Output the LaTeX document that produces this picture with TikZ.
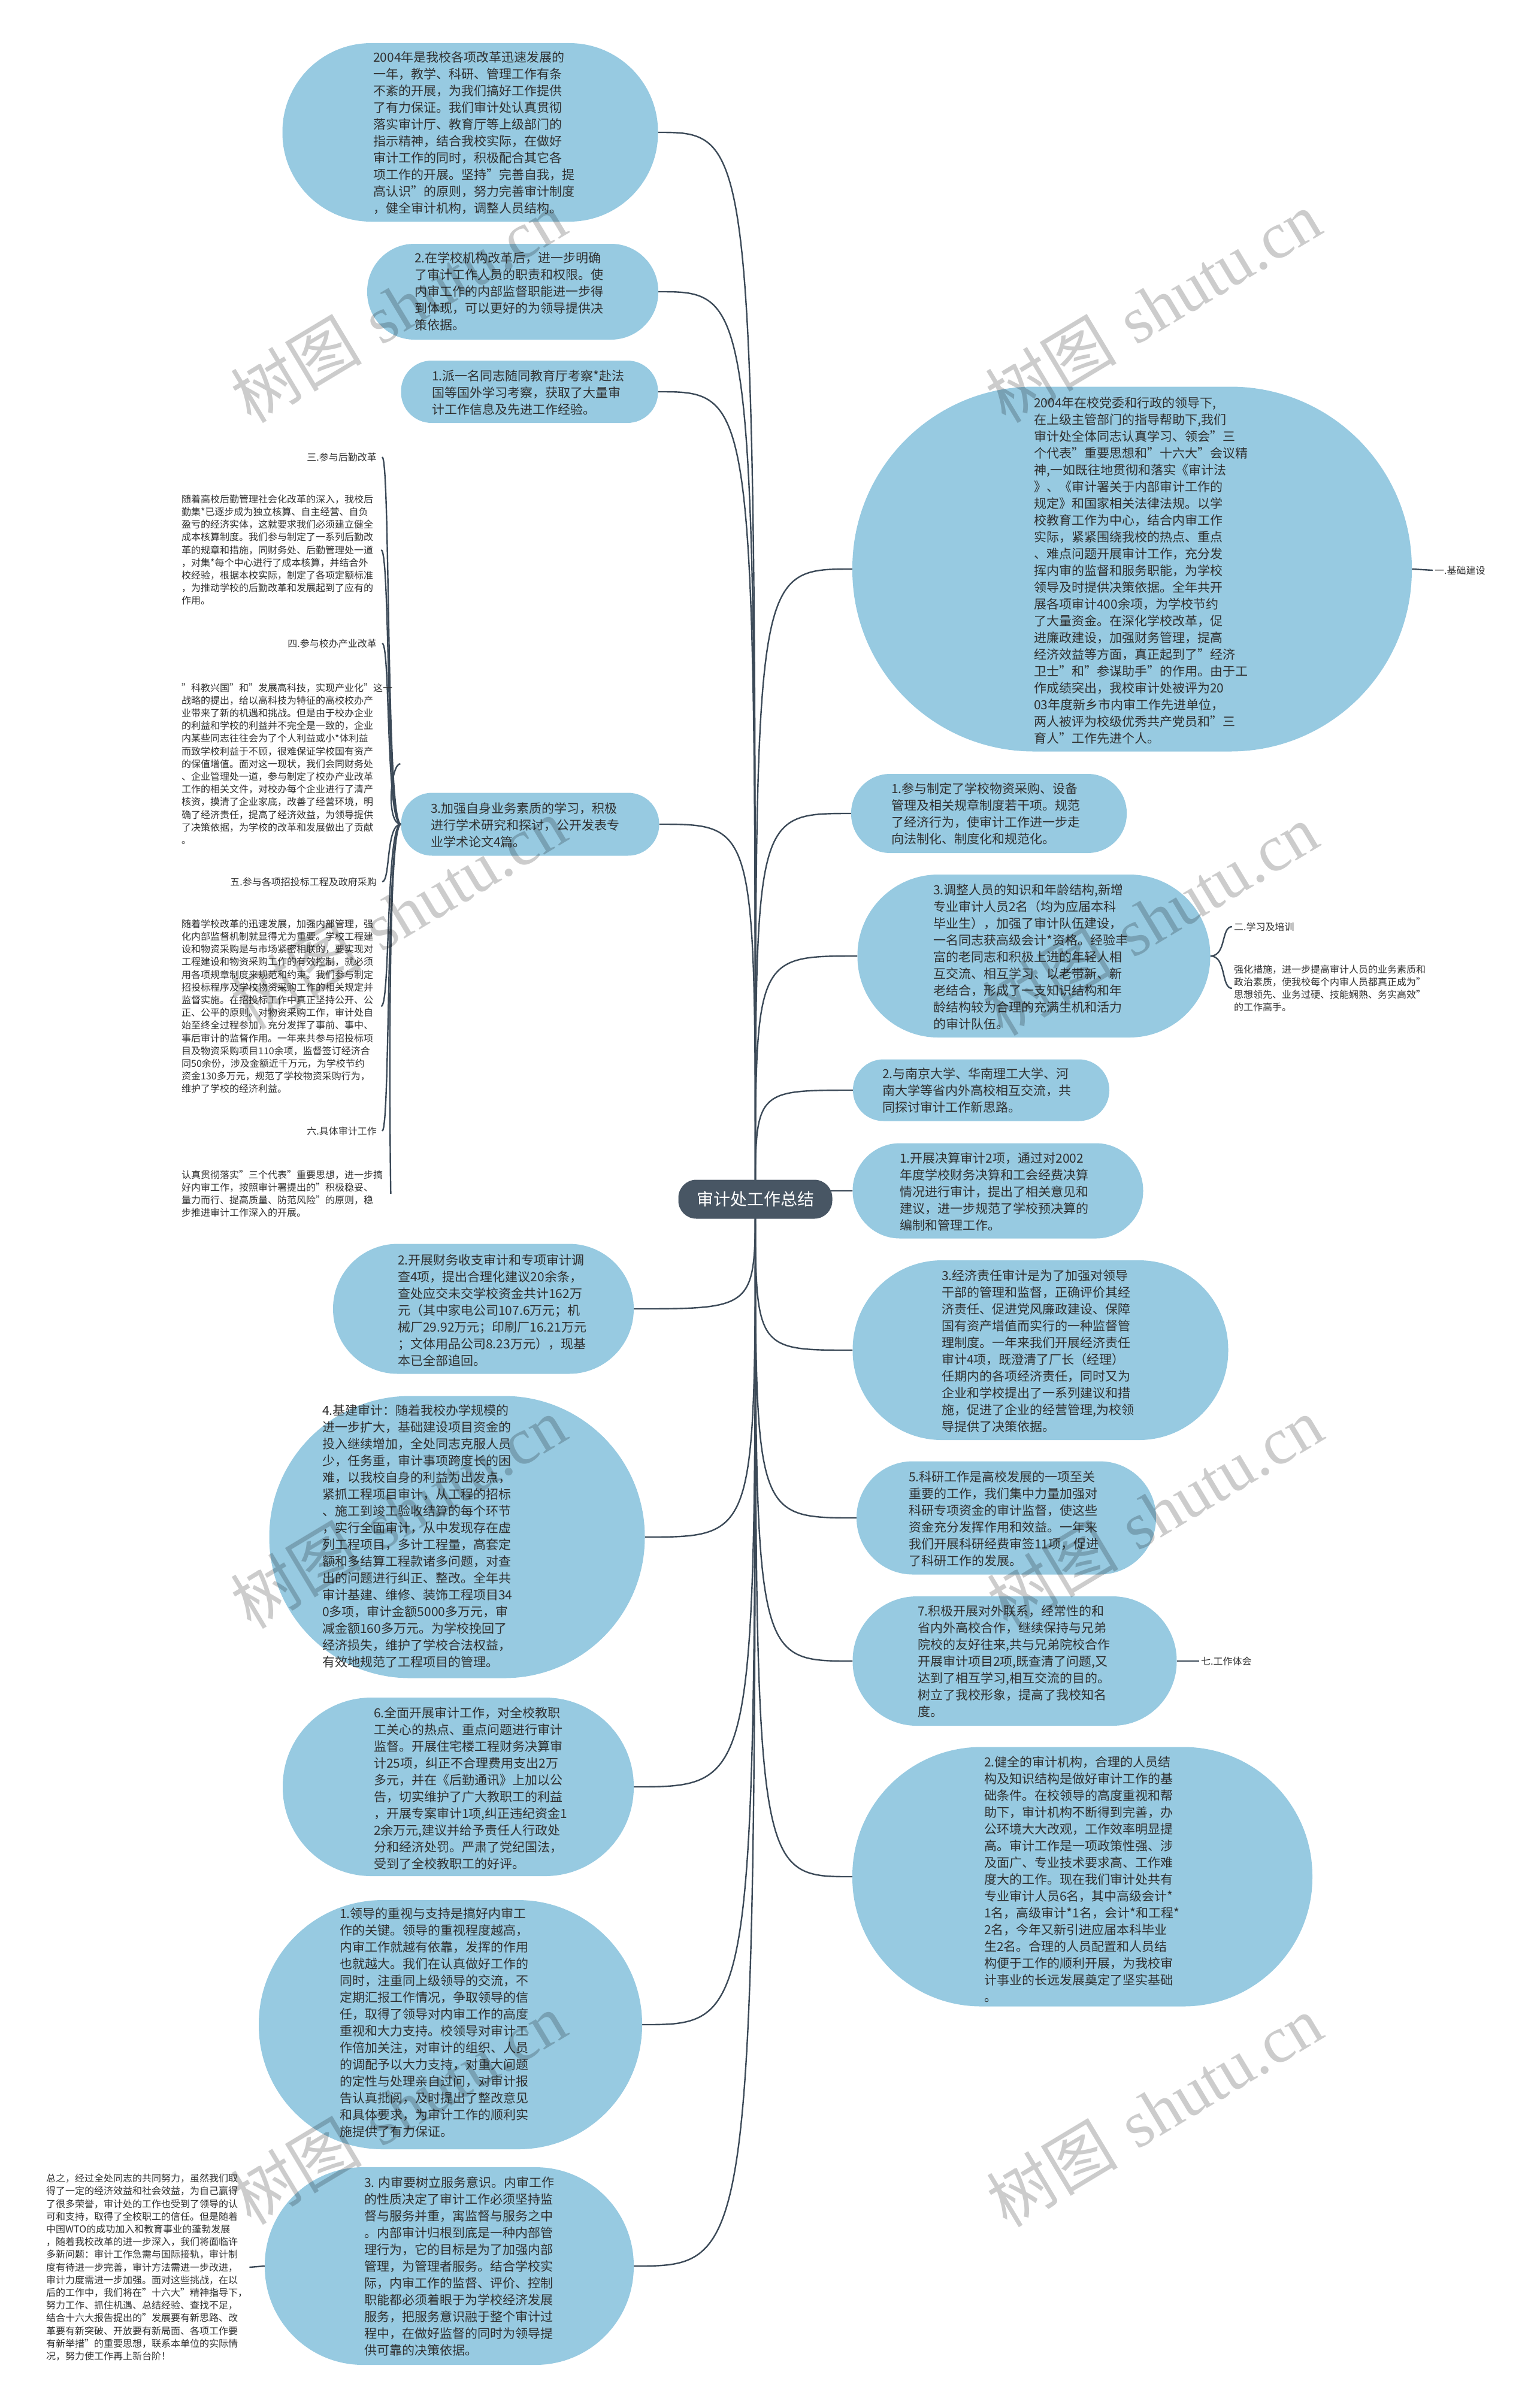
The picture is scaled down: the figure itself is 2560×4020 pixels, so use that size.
\documentclass[tikz,border=0pt]{standalone}
\usepackage{fontspec}
\setmainfont{Noto Sans CJK SC}
\newfontfamily\wmserif{Liberation Serif}
\usetikzlibrary{backgrounds}
\definecolor{nodefill}{RGB}{151,202,225}
\definecolor{rootfill}{RGB}{72,86,100}
\definecolor{linec}{RGB}{60,74,88}
\definecolor{txt}{RGB}{48,48,48}
\tikzset{
  blob/.style n args={3}{fill=nodefill, draw=none, inner sep=0pt, minimum width=#1, minimum height=#2, rounded corners=#3},
  etext/.style={anchor=west, align=left, inner sep=0pt, text=txt, font=\fontsize{21}{28}\selectfont},
  stext/.style={align=left, inner sep=3pt, text=txt, font=\fontsize{16}{21.2}\selectfont},
  conn/.style={draw=linec, line width=2.4pt},
  rootnode/.style={fill=rootfill, text=white, rounded corners=30pt, minimum width=257pt, minimum height=65pt, inner sep=0pt, font=\fontsize{28}{34}\selectfont},
  wm/.style={rotate=31, text=black, text opacity=0.2, inner sep=0pt, font=\fontsize{110}{120}\selectfont},
}
\newcommand{\wmtext}{树图\hspace{0.3em}{\wmserif shutu.cn}}
\begin{document}
\begin{tikzpicture}[x=1pt,y=-1pt]
\path[use as bounding box] (0,0) rectangle (2560,4020);
\begin{scope}[on background layer]
\fill[white] (0,0) rectangle (2560,4020);
\end{scope}

% ---------- left side nodes ----------
\node[blob={627pt}{298pt}{148pt}] (A) at (785,221) {};
\node[etext] (At) at (623,221.5) {2004年是我校各项改革迅速发展的\\一年，教学、科研、管理工作有条\\不紊的开展，为我们搞好工作提供\\了有力保证。我们审计处认真贯彻\\落实审计厅、教育厅等上级部门的\\指示精神，结合我校实际，在做好\\审计工作的同时，积极配合其它各\\项工作的开展。坚持"完善自我，提\\高认识"的原则，努力完善审计制度\\，健全审计机构，调整人员结构。};

\node[blob={486pt}{160pt}{79pt}] (B) at (856,487) {};
\node[etext] (Bt) at (692,486) {2.在学校机构改革后，进一步明确\\了审计工作人员的职责和权限。使\\内审工作的内部监督职能进一步得\\到体现，可以更好的为领导提供决\\策依据。};

\node[blob={429pt}{104pt}{51pt}] (C) at (884,654) {};
\node[etext] (Ct) at (721,655) {1.派一名同志随同教育厅考察*赴法\\国等国外学习考察，获取了大量审\\计工作信息及先进工作经验。};

\node[blob={431pt}{105pt}{52pt}] (E) at (885,1376) {};
\node[etext] (Et) at (719,1377) {3.加强自身业务素质的学习，积极\\进行学术研究和探讨，公开发表专\\业学术论文4篇。};

\node[blob={502pt}{217pt}{108pt}] (N) at (807,2185) {};
\node[etext] (Nt) at (664,2187) {2.开展财务收支审计和专项审计调\\查4项，提出合理化建议20余条，\\查处应交未交学校资金共计162万\\元（其中家电公司107.6万元；机\\械厂29.92万元；印刷厂16.21万元\\；文体用品公司8.23万元），现基\\本已全部追回。};

\node[blob={627pt}{471pt}{235pt}] (O) at (763,2566) {};
\node[etext] (Ot) at (538,2564) {4.基建审计：随着我校办学规模的\\进一步扩大，基础建设项目资金的\\投入继续增加，全处同志克服人员\\少，任务重，审计事项跨度长的困\\难，以我校自身的利益为出发点，\\紧抓工程项目审计，从工程的招标\\、施工到竣工验收结算的每个环节\\，实行全面审计，从中发现存在虚\\列工程项目，多计工程量，高套定\\额和多结算工程款诸多问题，对查\\出的问题进行纠正、整改。全年共\\审计基建、维修、装饰工程项目34\\0多项，审计金额5000多万元，审\\减金额160多万元。为学校挽回了\\经济损失，维护了学校合法权益，\\有效地规范了工程项目的管理。};

\node[blob={586pt}{298pt}{148pt}] (P) at (765,2983) {};
\node[etext] (Pt) at (624,2985) {6.全面开展审计工作，对全校教职\\工关心的热点、重点问题进行审计\\监督。开展住宅楼工程财务决算审\\计25项，纠正不合理费用支出2万\\多元，并在《后勤通讯》上加以公\\告，切实维护了广大教职工的利益\\，开展专案审计1项,纠正违纪资金1\\2余万元,建议并给予责任人行政处\\分和经济处罚。严肃了党纪国法，\\受到了全校教职工的好评。};

\node[blob={640pt}{416pt}{207pt}] (Q) at (752,3380) {};
\node[etext] (Qt) at (567,3376) {1.领导的重视与支持是搞好内审工\\作的关键。领导的重视程度越高，\\内审工作就越有依靠，发挥的作用\\也就越大。我们在认真做好工作的\\同时，注重同上级领导的交流，不\\定期汇报工作情况，争取领导的信\\任，取得了领导对内审工作的高度\\重视和大力支持。校领导对审计工\\作倍加关注，对审计的组织、人员\\的调配予以大力支持，对重大问题\\的定性与处理亲自过问，对审计报\\告认真批阅，及时提出了整改意见\\和具体要求，为审计工作的顺利实\\施提供了有力保证。};

\node[blob={616pt}{330pt}{164pt}] (R) at (750,3783) {};
\node[etext] (Rt) at (608,3783) {3. 内审要树立服务意识。内审工作\\的性质决定了审计工作必须坚持监\\督与服务并重，寓监督与服务之中\\。内部审计归根到底是一种内部管\\理行为，它的目标是为了加强内部\\管理，为管理者服务。结合学校实\\际，内审工作的监督、评价、控制\\职能都必须着眼于为学校经济发展\\服务，把服务意识融于整个审计过\\程中，在做好监督的同时为领导提\\供可靠的决策依据。};

% ---------- right side nodes ----------
\node[blob={934pt}{609pt}{303pt}] (D) at (1890,950) {};
\node[etext] (Dt) at (1726,952) {2004年在校党委和行政的领导下,\\在上级主管部门的指导帮助下,我们\\审计处全体同志认真学习、领会"三\\个代表"重要思想和"十六大"会议精\\神,一如既往地贯彻和落实《审计法\\》、《审计署关于内部审计工作的\\规定》和国家相关法律法规。以学\\校教育工作为中心，结合内审工作\\实际，紧紧围绕我校的热点、重点\\、难点问题开展审计工作，充分发\\挥内审的监督和服务职能，为学校\\领导及时提供决策依据。全年共开\\展各项审计400余项，为学校节约\\了大量资金。在深化学校改革，促\\进廉政建设，加强财务管理，提高\\经济效益等方面，真正起到了"经济\\卫士"和"参谋助手"的作用。由于工\\作成绩突出，我校审计处被评为20\\03年度新乡市内审工作先进单位，\\两人被评为校级优秀共产党员和"三\\育人"工作先进个人。};

\node[blob={460pt}{132pt}{65pt}] (F) at (1651,1358) {};
\node[etext] (Ft) at (1488,1358) {1.参与制定了学校物资采购、设备\\管理及相关规章制度若干项。规范\\了经济行为，使审计工作进一步走\\向法制化、制度化和规范化。};

\node[blob={589pt}{272pt}{135pt}] (G) at (1726,1596) {};
\node[etext] (Gt) at (1558,1597) {3.调整人员的知识和年龄结构,新增\\专业审计人员2名（均为应届本科\\毕业生），加强了审计队伍建设，\\一名同志获高级会计*资格。经验丰\\富的老同志和积极上进的年轻人相\\互交流、相互学习、以老带新、新\\老结合，形成了一支知识结构和年\\龄结构较为合理的充满生机和活力\\的审计队伍。};

\node[blob={428pt}{103pt}{51pt}] (H) at (1638,1820) {};
\node[etext] (Ht) at (1473,1820) {2.与南京大学、华南理工大学、河\\南大学等省内外高校相互交流，共\\同探讨审计工作新思路。};

\node[blob={485pt}{159pt}{79pt}] (I) at (1666,1988) {};
\node[etext] (It) at (1502,1989) {1.开展决算审计2项，通过对2002\\年度学校财务决算和工会经费决算\\情况进行审计，提出了相关意见和\\建议，进一步规范了学校预决算的\\编制和管理工作。};

\node[blob={627pt}{300pt}{149pt}] (J) at (1737,2254) {};
\node[etext] (Jt) at (1572,2255) {3.经济责任审计是为了加强对领导\\干部的管理和监督，正确评价其经\\济责任、促进党风廉政建设、保障\\国有资产增值而实行的一种监督管\\理制度。一年来我们开展经济责任\\审计4项，既澄清了厂长（经理）\\任期内的各项经济责任，同时又为\\企业和学校提出了一系列建议和措\\施，促进了企业的经营管理,为校领\\导提供了决策依据。};

\node[blob={500pt}{189pt}{94pt}] (K) at (1680,2534) {};
\node[etext] (Kt) at (1517,2535) {5.科研工作是高校发展的一项至关\\重要的工作，我们集中力量加强对\\科研专项资金的审计监督，使这些\\资金充分发挥作用和效益。一年来\\我们开展科研经费审签11项，促进\\了科研工作的发展。};

\node[blob={541pt}{216pt}{107pt}] (L) at (1694,2773) {};
\node[etext] (Lt) at (1532,2773) {7.积极开展对外联系，经常性的和\\省内外高校合作，继续保持与兄弟\\院校的友好往来,共与兄弟院校合作\\开展审计项目2项,既查清了问题,又\\达到了相互学习,相互交流的目的。\\树立了我校形象，提高了我校知名\\度。};

\node[blob={768pt}{433pt}{215pt}] (M) at (1807,3133) {};
\node[etext] (Mt) at (1643,3137) {2.健全的审计机构，合理的人员结\\构及知识结构是做好审计工作的基\\础条件。在校领导的高度重视和帮\\助下，审计机构不断得到完善，办\\公环境大大改观，工作效率明显提\\高。审计工作是一项政策性强、涉\\及面广、专业技术要求高、工作难\\度大的工作。现在我们审计处共有\\专业审计人员6名，其中高级会计*\\1名，高级审计*1名，会计*和工程*\\2名，今年又新引进应届本科毕业\\生2名。合理的人员配置和人员结\\构便于工作的顺利开展，为我校审\\计事业的长远发展奠定了坚实基础\\。};

% ---------- root ----------
\node[rootnode] (root) at (1261,2002) {审计处工作总结};

% ---------- small labels ----------
\node[stext, anchor=west] (l1) at (2392,952) {一.基础建设};
\node[stext, anchor=west] (l2) at (2057,1547) {二.学习及培训};
\node[stext, anchor=west] (l2d) at (2057,1650) {强化措施，进一步提高审计人员的业务素质和\\政治素质，使我校每个内审人员都真正成为"\\思想领先、业务过硬、技能娴熟、务实高效"\\的工作高手。};
\node[stext, anchor=west] (l7) at (2002,2773) {七.工作体会};

% ---------- left column ----------
\node[stext, anchor=east] (h3) at (632,763) {三.参与后勤改革};
\node[stext, anchor=west] (p3) at (300,918) {随着高校后勤管理社会化改革的深入，我校后\\勤集*已逐步成为独立核算、自主经营、自负\\盈亏的经济实体，这就要求我们必须建立健全\\成本核算制度。我们参与制定了一系列后勤改\\革的规章和措施，同财务处、后勤管理处一道\\，对集*每个中心进行了成本核算，并结合外\\校经验，根据本校实际，制定了各项定额标准\\，为推动学校的后勤改革和发展起到了应有的\\作用。};
\node[stext, anchor=east] (h4) at (632,1074) {四.参与校办产业改革};
\node[stext, anchor=west] (p4) at (300,1275) {"科教兴国"和"发展高科技，实现产业化"这一\\战略的提出，给以高科技为特征的高校校办产\\业带来了新的机遇和挑战。但是由于校办企业\\的利益和学校的利益并不完全是一致的，企业\\内某些同志往往会为了个人利益或小*体利益\\而致学校利益于不顾，很难保证学校国有资产\\的保值增值。面对这一现状，我们会同财务处\\、企业管理处一道，参与制定了校办产业改革\\工作的相关文件，对校办每个企业进行了清产\\核资，摸清了企业家底，改善了经营环境，明\\确了经济责任，提高了经济效益，为领导提供\\了决策依据，为学校的改革和发展做出了贡献\\。};
\node[stext, anchor=east] (h5) at (632,1472) {五.参与各项招投标工程及政府采购};
\node[stext, anchor=west] (p5) at (300,1680) {随着学校改革的迅速发展，加强内部管理，强\\化内部监督机制就显得尤为重要。学校工程建\\设和物资采购是与市场紧密相联的，要实现对\\工程建设和物资采购工作的有效控制，就必须\\用各项规章制度来规范和约束。我们参与制定\\招投标程序及学校物资采购工作的相关规定并\\监督实施。在招投标工作中真正坚持公开、公\\正、公平的原则。对物资采购工作，审计处自\\始至终全过程参加，充分发挥了事前、事中、\\事后审计的监督作用。一年来共参与招投标项\\目及物资采购项目110余项，监督签订经济合\\同50余份，涉及金额近千万元，为学校节约\\资金130多万元，规范了学校物资采购行为，\\维护了学校的经济利益。};
\node[stext, anchor=east] (h6) at (632,1888) {六.具体审计工作};
\node[stext, anchor=west] (p6) at (300,1993) {认真贯彻落实"三个代表"重要思想，进一步搞\\好内审工作，按照审计署提出的"积极稳妥、\\量力而行、提高质量、防范风险"的原则，稳\\步推进审计工作深入的开展。};

% ---------- bottom left ----------
\node[stext, anchor=west] (S) at (74,3785) {总之，经过全处同志的共同努力，虽然我们取\\得了一定的经济效益和社会效益，为自己赢得\\了很多荣誉，审计处的工作也受到了领导的认\\可和支持，取得了全校职工的信任。但是随着\\中国WTO的成功加入和教育事业的蓬勃发展\\，随着我校改革的进一步深入，我们将面临许\\多新问题：审计工作急需与国际接轨，审计制\\度有待进一步完善，审计方法需进一步改进，\\审计力度需进一步加强。面对这些挑战，在以\\后的工作中，我们将在"十六大"精神指导下，\\努力工作、抓住机遇、总结经验、查找不足，\\结合十六大报告提出的"发展要有新思路、改\\革要有新突破、开放要有新局面、各项工作要\\有新举措"的重要思想，联系本单位的实际情\\况，努力使工作再上新台阶！};

% ---------- connectors ----------
\begin{scope}[on background layer]
\foreach \n in {A,B,C,E,N,O,P,Q,R}
  \draw[conn] (root.center) .. controls (root.center |- \n.east) .. (\n.east);
\foreach \n in {D,F,G,H,I,J,K,L,M}
  \draw[conn] (root.center) .. controls (root.center |- \n.west) .. (\n.west);
\foreach \n/\y in {h3/763, h4/1074, h5/1472, h6/1888}
  \draw[conn] (E.west) .. controls (644,1376) and (652,\y) .. ([xshift=6pt]\n.east);
\foreach \n/\y in {p3/918, p4/1275, p5/1680, p6/1993}
  \draw[conn] (E.west) .. controls (644,1376) and (652,\y) .. ([xshift=10pt]\n.east);
\draw[conn] (D.east) -- (l1.west);
\draw[conn] (G.east) .. controls (2048,1596) and (2038,1547) .. (l2.west);
\draw[conn] (G.east) .. controls (2048,1596) and (2038,1650) .. (l2d.west);
\draw[conn] (L.east) -- (l7.west);
\draw[conn] (S.east) -- (R.west);
\end{scope}

% ---------- watermarks ----------
\node[wm] (wm1) at (665,512) {\wmtext};
\node[wm] (wm2) at (1925,512) {\wmtext};
\node[wm] (wm3) at (665,1525) {\wmtext};
\node[wm] (wm4) at (1920,1535) {\wmtext};
\node[wm] (wm5) at (665,2525) {\wmtext};
\node[wm] (wm6) at (1928,2525) {\wmtext};
\node[wm] (wm7) at (665,3520) {\wmtext};
\node[wm] (wm8) at (1927,3524) {\wmtext};
\end{tikzpicture}
\end{document}
